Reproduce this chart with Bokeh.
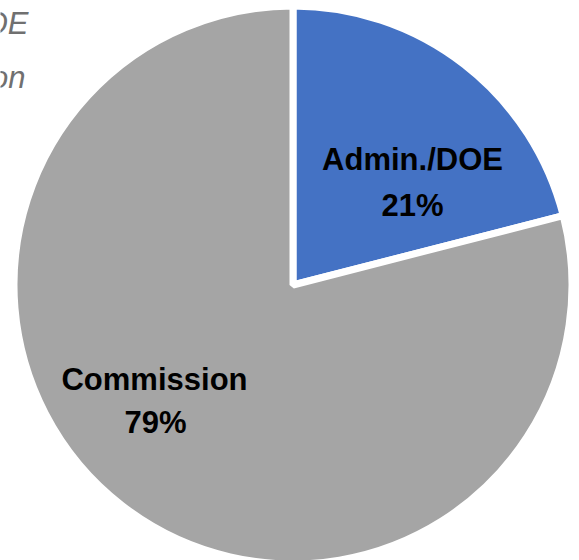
import math
from bokeh.plotting import figure
from bokeh.models import Range1d, ColumnDataSource
from bokeh.core.properties import value
from bokeh.embed import file_html
from bokeh.resources import INLINE

# ---- data ----
categories = ["Admin./DOE", "Commission"]
shares = [21, 79]
pct_labels = ["21%", "79%"]
colors = ["#4472C4", "#A5A5A5"]

# ---- layout (screen px of the 579x560 picture) ----
W, H = 579, 560


def sy(y):
    return H - y


p = figure(width=W, height=H, output_backend="svg", toolbar_location=None,
           x_range=Range1d(0, W), y_range=Range1d(0, H),
           x_axis_location=None, y_axis_location=None, min_border=0,
           background_fill_color="white", border_fill_color="white")
p.grid.visible = False
p.outline_line_color = None

cx, cy, r = 292.5, sy(284.5), 279

total = float(sum(shares))
starts, ends = [], []
a = math.pi / 2
for s in shares:
    a2 = a - 2 * math.pi * s / total
    starts.append(a2)
    ends.append(a)
    a = a2

src = ColumnDataSource(dict(x=[cx] * len(shares), y=[cy] * len(shares),
                            start=starts, end=ends, color=colors))
p.wedge(x="x", y="y", radius=r, start_angle="start", end_angle="end",
        fill_color="color", line_color="white", line_width=7, source=src)

FONT = value("Liberation Sans")
name_pos = [(412, 159), (154, 379)]
pct_pos = [(412, 205), (155, 422)]
lab = ColumnDataSource(dict(
    x=[q[0] for q in name_pos] + [q[0] for q in pct_pos],
    y=[sy(q[1]) for q in name_pos] + [sy(q[1]) for q in pct_pos],
    t=categories + pct_labels))
p.text(x="x", y="y", text="t", source=lab, text_font=FONT,
       text_font_size="31px", text_font_style="bold", text_color="#000000",
       text_align="center", text_baseline="alphabetic")

# cropped legend text at top-left
leg = ColumnDataSource(dict(x=[28, 25], y=[sy(23), sy(77)], t=categories))
p.text(x="x", y="y", text="t", source=leg, text_font=FONT,
       text_font_size="31px", text_font_style="italic", text_color="#707070",
       text_align="right", text_baseline="alphabetic")

open("out.html", "w").write(file_html(p, INLINE))
